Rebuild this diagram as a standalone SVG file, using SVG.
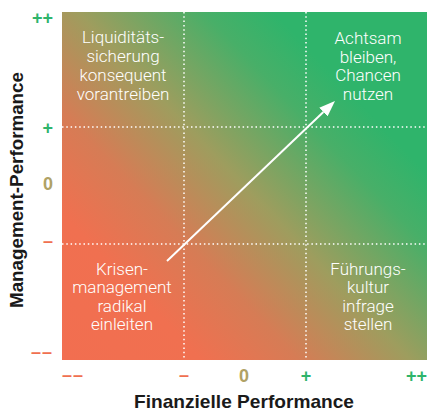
<svg xmlns="http://www.w3.org/2000/svg" width="428" height="411" viewBox="0 0 428 411">
<style>
.q{font-family:Roboto,"Liberation Sans",sans-serif;font-weight:300;font-size:17px;fill:#fff;text-anchor:middle}
.t{font-family:"Liberation Sans",Arial,sans-serif;font-weight:bold;font-size:18px}
.g{fill:#2fb46b}.o{fill:#b0a265}.r{fill:#f07050}
.ax{font-family:"Liberation Sans",Arial,sans-serif;font-weight:bold;font-size:19px;fill:#1a1a1a;text-anchor:middle}
.dot{stroke:#fff;stroke-width:1.5;stroke-dasharray:1.5 2.8;fill:none}
</style>
<defs>
<linearGradient id="bg" gradientUnits="userSpaceOnUse" x1="62" y1="360" x2="427" y2="12">
<stop offset="0" stop-color="#f26e50"/>
<stop offset="0.2" stop-color="#f07050"/>
<stop offset="0.34" stop-color="#d67c55"/>
<stop offset="0.5" stop-color="#9e9d5e"/>
<stop offset="0.68" stop-color="#48af68"/>
<stop offset="0.78" stop-color="#2fb46b"/>
<stop offset="1" stop-color="#2fb46b"/>
</linearGradient>
<marker id="ah" viewBox="0 0 16 12" refX="0" refY="6" markerWidth="16" markerHeight="12" markerUnits="userSpaceOnUse" orient="auto">
<path d="M0,0 L16,6 L0,12 Z" fill="#fff"/>
</marker>
</defs>
<g id="plot">
<rect x="62" y="12" width="365" height="348" fill="url(#bg)"/>
<line class="dot" x1="184" y1="12" x2="184" y2="360"/>
<line class="dot" x1="306" y1="12" x2="306" y2="360"/>
<line class="dot" x1="62" y1="127" x2="427" y2="127"/>
<line class="dot" x1="62" y1="244" x2="427" y2="244"/>
</g>
<g id="connectors">
<line x1="167" y1="261" x2="323.4" y2="112" stroke="#fff" stroke-width="2" marker-end="url(#ah)"/>
</g>
<g id="q-topleft">
<text class="q" x="123" y="43">Liquiditäts-</text>
<text class="q" x="123" y="62">sicherung</text>
<text class="q" x="123" y="81">konsequent</text>
<text class="q" x="123" y="99.5">vorantreiben</text>
</g>
<g id="q-topright">
<text class="q" x="368" y="44">Achtsam</text>
<text class="q" x="368" y="62.5">bleiben,</text>
<text class="q" x="368" y="81">Chancen</text>
<text class="q" x="368" y="99.8">nutzen</text>
</g>
<g id="q-bottomleft">
<text class="q" x="122" y="274.5">Krisen-</text>
<text class="q" x="122" y="293">management</text>
<text class="q" x="122" y="311.5">radikal</text>
<text class="q" x="122" y="330">einleiten</text>
</g>
<g id="q-bottomright">
<text class="q" x="368" y="274.5">Führungs-</text>
<text class="q" x="368" y="293">kultur</text>
<text class="q" x="368" y="311.5">infrage</text>
<text class="q" x="368" y="330">stellen</text>
</g>
<g id="y-ticks" text-anchor="end">
<text class="t g" x="53" y="23.5">++</text>
<text class="t g" x="53" y="133.5">+</text>
<text class="t o" x="53" y="189.5">0</text>
<text class="t r" x="53" y="246.5">–</text>
<text class="t r" x="53" y="357.5" letter-spacing="1">––</text>
</g>
<g id="x-ticks">
<text class="t r" x="62" y="380.5" letter-spacing="1">––</text>
<text class="t r" x="184" y="380.5" text-anchor="middle">–</text>
<text class="t o" x="244" y="381.5" text-anchor="middle">0</text>
<text class="t g" x="306" y="381.5" text-anchor="middle">+</text>
<text class="t g" x="427" y="381.5" text-anchor="end">++</text>
</g>
<g id="axis-titles">
<text class="ax" x="244" y="407.5" textLength="220" lengthAdjust="spacingAndGlyphs">Finanzielle Performance</text>
<text class="ax" transform="translate(23,190) rotate(-90)" x="0" y="0" textLength="236" lengthAdjust="spacingAndGlyphs">Management-Performance</text>
</g>
</svg>
